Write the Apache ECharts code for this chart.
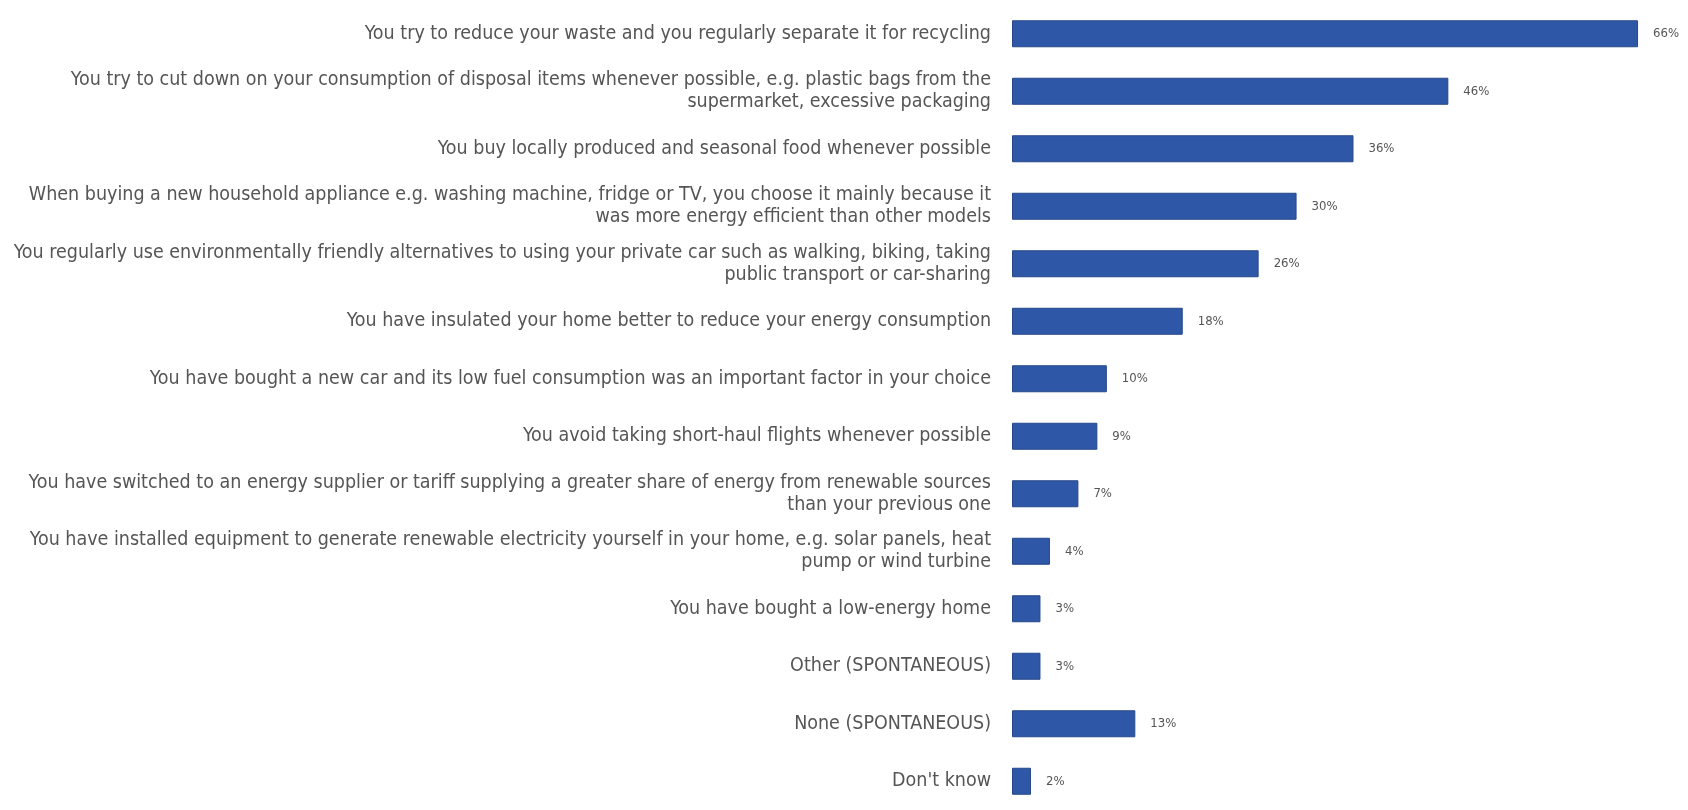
<!DOCTYPE html>
<html>
<head>
<meta charset="utf-8">
<script src="https://cdn.jsdelivr.net/npm/echarts@6/dist/echarts.min.js"></script>
<style>
html,body{margin:0;padding:0;background:#fff;}
#chart{width:1688px;height:810px;}
</style>
</head>
<body>
<div id="chart"></div>
<script>
// Actions taken to fight climate change (% of respondents)
const categories = [
  'You try to reduce your waste and you regularly separate it for recycling',
  'You try to cut down on your consumption of disposal items whenever possible, e.g. plastic bags from the\nsupermarket, excessive packaging',
  'You buy locally produced and seasonal food whenever possible',
  'When buying a new household appliance e.g. washing machine, fridge or TV, you choose it mainly because it\nwas more energy efficient than other models',
  'You regularly use environmentally friendly alternatives to using your private car such as walking, biking, taking\npublic transport or car-sharing',
  'You have insulated your home better to reduce your energy consumption',
  'You have bought a new car and its low fuel consumption was an important factor in your choice',
  'You avoid taking short-haul flights whenever possible',
  'You have switched to an energy supplier or tariff supplying a greater share of energy from renewable sources\nthan your previous one',
  'You have installed equipment to generate renewable electricity yourself in your home, e.g. solar panels, heat\npump or wind turbine',
  'You have bought a low-energy home',
  'Other (SPONTANEOUS)',
  'None (SPONTANEOUS)',
  "Don't know"
];
const values = [66, 46, 36, 30, 26, 18, 10, 9, 7, 4, 3, 3, 13, 2];

const labelFont = 'DejaVu Sans Condensed';

const chart = echarts.init(document.getElementById('chart'));
chart.setOption({
  animation: false,
  grid: { left: 1012, right: 12, top: 5, height: 822, containLabel: false },
  xAxis: {
    type: 'value', min: 0, max: 70, show: false
  },
  yAxis: {
    type: 'category',
    inverse: true,
    data: categories,
    axisLine: { show: false },
    axisTick: { show: false },
    axisLabel: {
      margin: 21,
      color: '#555',
      fontFamily: labelFont,
      fontSize: 19.5,
      lineHeight: 22,
      align: 'right'
    }
  },
  series: [{
    type: 'bar',
    data: values,
    barWidth: 27,
    itemStyle: { color: '#2f57a8', borderColor: '#274889', borderWidth: 1 },
    label: {
      show: true,
      position: 'right',
      distance: 15,
      formatter: '{c}%',
      color: '#555',
      fontFamily: labelFont,
      fontSize: 13
    }
  }]
});
</script>
</body>
</html>
